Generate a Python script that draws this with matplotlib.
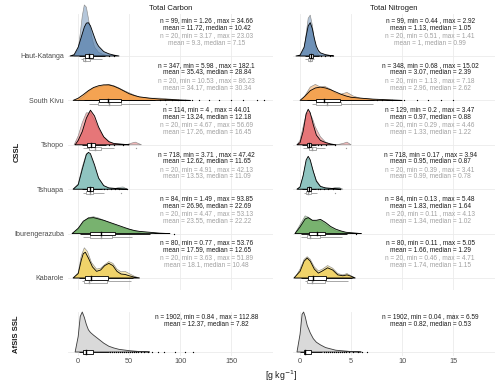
import matplotlib
matplotlib.use("Agg")
import matplotlib.pyplot as plt
from matplotlib.patches import Rectangle, Polygon

plt.rcParams['font.family'] = ['Liberation Sans', 'DejaVu Sans']

# ---------------- data ----------------
regions = ["Haut-Katanga", "South Kivu", "Tshopo", "Tshuapa", "Iburengerazuba", "Kabarole"]
colors = ["#4E79A7", "#F28E2B", "#E15759", "#76B7B2", "#59A14F", "#EDC948"]
tc_ticks = [0, 50, 100, 150]
tn_ticks = [0, 5, 10, 15]

# density curves: (x, height in row units)
tc_hk_full = [(-8, 0), (-4, 0.03), (0, 0.2), (2, 0.35), (4, 0.5), (6, 0.65), (8, 0.74), (10, 0.75), (12, 0.68), (14, 0.55), (16, 0.42), (18, 0.3), (20, 0.22), (25, 0.1), (30, 0.05), (35, 0.02), (40, 0)]
tc_hk_sub = [(-4, 0), (0, 0.15), (2, 0.5), (4, 0.9), (6, 1.15), (8, 1.1), (10, 0.85), (12, 0.58), (14, 0.36), (16, 0.2), (20, 0.08), (25, 0.03), (30, 0)]
tc_sk_full = [(-5, 0), (0, 0.05), (5, 0.13), (10, 0.22), (15, 0.29), (20, 0.33), (25, 0.35), (30, 0.35), (35, 0.32), (40, 0.27), (45, 0.21), (50, 0.15), (55, 0.11), (60, 0.08), (70, 0.05), (80, 0.03), (90, 0.02), (100, 0.01), (110, 0)]
tc_sk_sub = [(0, 0), (5, 0.08), (10, 0.2), (15, 0.28), (20, 0.3), (25, 0.33), (30, 0.36), (35, 0.33), (40, 0.28), (45, 0.22), (50, 0.17), (55, 0.12), (60, 0.07), (70, 0.05), (80, 0.05), (90, 0.03), (100, 0)]
tc_ts_full = [(-3, 0), (0, 0.1), (4, 0.3), (8, 0.6), (12, 0.78), (16, 0.65), (20, 0.4), (25, 0.18), (30, 0.07), (35, 0.03), (40, 0.02), (45, 0.01), (50, 0)]
tc_ts_sub = [(-4, 0), (0, 0.2), (4, 0.5), (8, 0.72), (12, 0.72), (16, 0.55), (20, 0.35), (25, 0.18), (30, 0.08), (35, 0.02), (40, 0.0), (47, 0.0), (51, 0.03), (56, 0.06), (62, 0)]
tc_tu_full = [(-5, 0), (0, 0.1), (4, 0.45), (8, 0.78), (10, 0.83), (12, 0.8), (16, 0.55), (20, 0.25), (25, 0.08), (30, 0.03), (35, 0.02), (40, 0.01), (48, 0)]
tc_tu_sub = [(-5, 0), (0, 0.12), (4, 0.5), (8, 0.8), (10, 0.8), (12, 0.75), (16, 0.5), (20, 0.25), (25, 0.08), (30, 0.02), (35, 0.01), (40, 0.04), (44, 0.05), (48, 0)]
tc_ib_full = [(-6, 0), (0, 0.12), (5, 0.28), (10, 0.35), (15, 0.36), (20, 0.33), (25, 0.3), (30, 0.26), (35, 0.22), (40, 0.18), (45, 0.14), (50, 0.1), (55, 0.07), (60, 0.05), (70, 0.03), (80, 0.01), (90, 0)]
tc_ib_sub = [(-6, 0), (0, 0.1), (5, 0.25), (10, 0.36), (15, 0.38), (20, 0.35), (25, 0.3), (30, 0.25), (35, 0.2), (40, 0.15), (45, 0.12), (50, 0.1), (55, 0.06), (60, 0.02), (65, 0)]
tc_ka_full = [(-5, 0), (0, 0.1), (3, 0.4), (5, 0.55), (7, 0.58), (10, 0.45), (14, 0.25), (18, 0.15), (22, 0.18), (26, 0.28), (30, 0.33), (34, 0.28), (38, 0.15), (42, 0.09), (46, 0.08), (50, 0.05), (55, 0.02), (60, 0)]
tc_ka_sub = [(-5, 0), (0, 0.12), (3, 0.5), (6, 0.68), (9, 0.6), (13, 0.35), (18, 0.2), (22, 0.22), (26, 0.3), (30, 0.37), (34, 0.33), (38, 0.2), (42, 0.14), (46, 0.15), (50, 0.1), (55, 0.04), (60, 0)]
tc_af = [(-3, 0), (0, 0.35), (2, 0.8), (4, 0.9), (6, 0.78), (8, 0.62), (10, 0.5), (12, 0.44), (15, 0.38), (20, 0.29), (25, 0.2), (30, 0.13), (35, 0.09), (40, 0.06), (50, 0.03), (60, 0.01), (70, 0)]

tn_hk_full = [(-0.4, 0), (0, 0.02), (0.4, 0.2), (0.6, 0.45), (0.8, 0.68), (1.0, 0.75), (1.2, 0.62), (1.4, 0.4), (1.6, 0.22), (1.8, 0.12), (2.0, 0.07), (2.5, 0.03), (3.0, 0.01), (3.3, 0)]
tn_hk_sub = [(0, 0), (0.4, 0.15), (0.6, 0.5), (0.8, 0.85), (1.0, 0.92), (1.2, 0.7), (1.4, 0.35), (1.6, 0.12), (1.8, 0.03), (2.0, 0)]
tn_sk_full = [(0, 0), (0.5, 0.1), (1.0, 0.22), (1.5, 0.28), (2.0, 0.3), (2.5, 0.28), (3.0, 0.24), (3.5, 0.19), (4.0, 0.14), (4.5, 0.1), (5.0, 0.07), (6.0, 0.05), (7.0, 0.03), (8.0, 0.02), (9.0, 0.01), (10, 0)]
tn_sk_sub = [(0.2, 0), (0.6, 0.15), (1.0, 0.3), (1.5, 0.36), (2.0, 0.3), (2.4, 0.32), (3.0, 0.25), (3.5, 0.15), (4.0, 0.14), (4.6, 0.18), (5.2, 0.1), (6.0, 0.04), (7.0, 0.03), (7.6, 0)]
tn_ts_full = [(-0.3, 0), (0, 0.05), (0.3, 0.3), (0.6, 0.7), (0.8, 0.8), (1.0, 0.72), (1.3, 0.45), (1.6, 0.22), (2.0, 0.1), (2.5, 0.05), (3.0, 0.02), (3.5, 0)]
tn_ts_sub = [(-0.3, 0), (0, 0.1), (0.3, 0.4), (0.6, 0.7), (0.9, 0.72), (1.2, 0.6), (1.5, 0.4), (2.0, 0.18), (2.5, 0.06), (3.0, 0.01), (3.6, 0.0), (4.2, 0.03), (4.6, 0.06), (5.0, 0)]
tn_tu_full = [(-0.3, 0), (0, 0.05), (0.3, 0.3), (0.6, 0.66), (0.8, 0.74), (1.0, 0.66), (1.3, 0.4), (1.6, 0.18), (2.0, 0.06), (2.5, 0.03), (3.0, 0.02), (3.5, 0.01), (4.0, 0)]
tn_tu_sub = [(-0.3, 0), (0, 0.05), (0.3, 0.3), (0.6, 0.6), (0.8, 0.68), (1.0, 0.62), (1.3, 0.4), (1.6, 0.2), (2.0, 0.07), (2.5, 0.02), (3.0, 0.01), (3.5, 0.04), (3.8, 0.04), (4.2, 0)]
tn_ib_full = [(-0.5, 0), (0, 0.15), (0.5, 0.33), (0.8, 0.36), (1.2, 0.3), (1.6, 0.3), (2.0, 0.32), (2.5, 0.25), (3.0, 0.16), (3.5, 0.1), (4.0, 0.06), (4.5, 0.03), (5.0, 0.02), (5.5, 0.01), (6.0, 0)]
tn_ib_sub = [(-0.5, 0), (0, 0.2), (0.5, 0.4), (0.8, 0.37), (1.2, 0.3), (1.6, 0.28), (2.0, 0.28), (2.5, 0.2), (3.0, 0.12), (3.5, 0.06), (4.0, 0.04), (4.5, 0.01), (5.0, 0)]
tn_ka_full = [(-0.6, 0), (0, 0.15), (0.4, 0.38), (0.7, 0.45), (1.0, 0.38), (1.4, 0.2), (1.8, 0.11), (2.2, 0.16), (2.7, 0.23), (3.2, 0.18), (3.7, 0.07), (4.2, 0.05), (4.6, 0.07), (5.0, 0.04), (5.4, 0)]
tn_ka_sub = [(-0.5, 0), (0, 0.2), (0.4, 0.42), (0.7, 0.48), (1.0, 0.42), (1.4, 0.25), (1.8, 0.16), (2.2, 0.2), (2.7, 0.28), (3.2, 0.22), (3.7, 0.1), (4.2, 0.07), (4.6, 0.1), (5.0, 0.05), (5.4, 0)]
tn_af = [(-0.3, 0), (0, 0.4), (0.2, 0.85), (0.35, 0.9), (0.5, 0.8), (0.7, 0.6), (1.0, 0.43), (1.3, 0.3), (1.6, 0.22), (2.0, 0.16), (2.5, 0.1), (3.0, 0.07), (3.5, 0.04), (4.0, 0.03), (5.0, 0.01), (6.0, 0)]

tc_full_dens = [tc_hk_full, tc_sk_full, tc_ts_full, tc_tu_full, tc_ib_full, tc_ka_full]
tc_sub_dens = [tc_hk_sub, tc_sk_sub, tc_ts_sub, tc_tu_sub, tc_ib_sub, tc_ka_sub]
tn_full_dens = [tn_hk_full, tn_sk_full, tn_ts_full, tn_tu_full, tn_ib_full, tn_ka_full]
tn_sub_dens = [tn_hk_sub, tn_sk_sub, tn_ts_sub, tn_tu_sub, tn_ib_sub, tn_ka_sub]

# summary statistics (full data)
tc_n = [99, 347, 114, 718, 84, 80]
tc_min = ["1.26", "5.98", "4", "3.71", "1.49", "0.77"]
tc_max = ["34.66", "182.1", "44.01", "47.42", "93.85", "53.76"]
tc_mean = ["11.72", "35.43", "13.24", "12.62", "26.96", "17.59"]
tc_median = ["10.42", "28.84", "12.18", "11.65", "22.69", "12.65"]
tc_s_min = ["3.17", "10.53", "4.67", "4.91", "4.47", "3.63"]
tc_s_max = ["23.03", "86.23", "56.69", "42.13", "53.13", "51.89"]
tc_s_mean = ["9.3", "34.17", "17.26", "13.53", "23.55", "18.1"]
tc_s_median = ["7.15", "30.34", "16.45", "11.09", "22.22", "10.48"]

tn_n = [99, 348, 129, 718, 84, 80]
tn_min = ["0.44", "0.68", "0.2", "0.17", "0.13", "0.11"]
tn_max = ["2.92", "15.02", "3.47", "3.94", "5.48", "5.05"]
tn_mean = ["1.13", "3.07", "0.97", "0.95", "1.83", "1.66"]
tn_median = ["1.05", "2.39", "0.88", "0.87", "1.64", "1.29"]
tn_s_min = ["0.51", "1.13", "0.29", "0.39", "0.11", "0.46"]
tn_s_max = ["1.41", "7.18", "4.46", "3.41", "4.13", "4.71"]
tn_s_mean = ["1", "2.96", "1.33", "0.99", "1.34", "1.74"]
tn_s_median = ["0.99", "2.62", "1.22", "0.78", "1.02", "1.15"]
sub_n = 20

af_tc_stats = (1902, "0.84", "112.88", "12.37", "7.82")
af_tn_stats = (1902, "0.04", "6.59", "0.82", "0.53")

# box plot values: (q1, median, q3, whisker low, whisker high)
tc_box = [(7, 10.42, 15, 1.26, 26), (20, 28.84, 42, 5.98, 75), (9, 12.18, 16, 4, 27),
          (9, 11.65, 14.5, 3.71, 23), (12, 22.69, 36, 1.49, 70), (7, 12.65, 29, 0.77, 53.76)]
tc_sbox = [(5, 7.15, 12, 3.17, 23.03), (19, 30.34, 42, 10.53, 70), (11, 16.45, 22, 4.67, 35),
           (8, 11.09, 15, 4.91, 25), (12, 22.22, 33, 4.47, 53.13), (6, 10.48, 28, 3.63, 51.89)]
tc_out = [[30, 34.66], [80, 85, 92, 98, 105, 112, 118, 128, 138, 150, 162, 175, 182.1], [30, 35, 44.01],
          [25, 28, 32, 36, 40, 47.42], [93.85], []]
tc_sout = [[], [86.23], [56.69], [42.13], [], []]
tn_box = [(0.85, 1.05, 1.3, 0.44, 1.9), (1.6, 2.39, 3.9, 0.68, 7.2), (0.7, 0.88, 1.1, 0.2, 1.6),
          (0.7, 0.87, 1.05, 0.17, 1.6), (0.9, 1.64, 2.4, 0.13, 4.6), (0.8, 1.29, 2.5, 0.11, 5.05)]
tn_sbox = [(0.8, 0.99, 1.2, 0.51, 1.41), (1.6, 2.62, 4.0, 1.13, 7.18), (0.9, 1.22, 1.6, 0.29, 2.4),
           (0.6, 0.78, 1.1, 0.39, 1.7), (0.7, 1.02, 2.0, 0.11, 4.13), (0.7, 1.15, 2.4, 0.46, 4.71)]
tn_out = [[2.1, 2.4, 2.92], [7.5, 8, 9, 10.2, 11.5, 12.5, 13.8, 15.02], [1.8, 2.1, 2.5, 3.47],
          [1.8, 2.0, 2.3, 2.7, 3.2, 3.94], [5.48], []]
tn_sout = [[], [], [4.46], [3.41], [], []]
af_tc_box = (4.5, 7.82, 15, 0.84, 30)
af_tc_out = [31, 33, 35, 37, 39, 41, 43, 45, 47, 49, 51, 53, 55, 57, 59, 62, 65, 68, 72, 78, 84, 95, 105, 112.88]
af_tn_box = (0.35, 0.53, 1.1, 0.04, 2.2)
af_tn_out = [2.3, 2.5, 2.7, 2.9, 3.1, 3.3, 3.5, 3.7, 3.9, 4.1, 4.3, 4.5, 4.8, 5.2, 5.7, 6.1, 6.59]

# ---------------- layout ----------------
W, H = 500, 386
fig = plt.figure(figsize=(5, 3.86), dpi=100)
fig.patch.set_facecolor("white")

def px_axes(l, t, r, b):
    return fig.add_axes([l / W, 1 - b / H, (r - l) / W, (b - t) / H])

UNIT = 44.4
GRID = "#EBEBEB"
TXT = "#4D4D4D"

ax_tc = px_axes(68, 14, 273, 290)
ax_tn = px_axes(293, 14, 495, 290)
ax_atc = px_axes(68, 312, 273, 356)
ax_atn = px_axes(293, 312, 495, 356)

for ax in (ax_tc, ax_tn):
    ax.set_ylim(6 - (290 - 56) / UNIT, 6 + (56 - 14) / UNIT)
for ax in (ax_atc, ax_atn):
    ax.set_ylim(1 - 4 / UNIT, 1 + 40 / UNIT)
for ax in (ax_tc, ax_atc):
    ax.set_xlim(-10, 191)
    ax.set_xticks(tc_ticks)
for ax in (ax_tn, ax_atn):
    ax.set_xlim(-0.69, 19.1)
    ax.set_xticks(tn_ticks)

for ax in (ax_tc, ax_tn, ax_atc, ax_atn):
    for s in ax.spines.values():
        s.set_visible(False)
    ax.set_facecolor("white")
    ax.grid(axis="x", color=GRID, lw=0.6, zorder=0)
    ax.set_axisbelow(True)
    ax.tick_params(length=0, labelsize=5.3, colors=TXT, pad=1.5)

baselines = [6, 5, 4, 3, 2, 1]
for ax in (ax_tc, ax_tn):
    for b in baselines:
        ax.axhline(b, color=GRID, lw=0.6, zorder=0)
    ax.set_yticks(baselines)
    ax.tick_params(labelbottom=False)
ax_tc.set_yticklabels(regions)
ax_tc.tick_params(axis="y", pad=3, labelsize=5.1)
ax_tn.set_yticklabels([])
for ax in (ax_atc, ax_atn):
    ax.axhline(1, color=GRID, lw=0.6, zorder=0)
    ax.set_yticks([])
ax_atn.set_yticklabels([])


def draw_density(ax, pts, base, fc, alpha, ec, lw, z):
    xs = [p[0] for p in pts]
    hs = [base + p[1] for p in pts]
    poly = [(xs[0], base)] + list(zip(xs, hs)) + [(xs[-1], base)]
    ax.add_patch(Polygon(poly, closed=True, facecolor=fc, alpha=alpha, edgecolor="none", zorder=z,
                         clip_on=False))
    ax.add_patch(Polygon(poly, closed=True, facecolor="none", edgecolor=ec, lw=lw, zorder=z + 0.1,
                         joinstyle="round", clip_on=False))


def draw_box(ax, y, stats, outl, ec, h, z):
    q1, med, q3, lo, hi = stats
    ax.plot([lo, q1], [y, y], color=ec, lw=0.6, zorder=z, solid_capstyle="butt")
    ax.plot([q3, hi], [y, y], color=ec, lw=0.6, zorder=z, solid_capstyle="butt")
    ax.add_patch(Rectangle((q1, y - h / 2), q3 - q1, h, facecolor="white", edgecolor=ec, lw=0.6, zorder=z))
    ax.plot([med, med], [y - h / 2, y + h / 2], color=ec, lw=1.0, zorder=z + 0.1)
    if outl:
        ax.scatter(outl, [y] * len(outl), s=0.9, color=ec, linewidths=0, zorder=z)


def stat_text(ax, x, base, n, mn, mx, mean, med, color, first):
    off = (0.79, 0.64) if first else (0.45, 0.30)
    ax.text(x, base + off[0], f"n = {n}, min = {mn} , max = {mx}", ha="center", va="center",
            fontsize=4.7, color=color, zorder=10, clip_on=False)
    ax.text(x, base + off[1], f"mean = {mean}, median = {med}", ha="center", va="center",
            fontsize=4.7, color=color, zorder=10, clip_on=False)


BLACK = "#1A1A1A"
GREYT = "#A0A0A0"
GREYE = "#9A9A9A"

for i, b in enumerate(baselines):
    c = colors[i]
    draw_density(ax_tc, tc_sub_dens[i], b, c, 0.42, "#8C8C8C", 0.45, 2)
    draw_density(ax_tc, tc_full_dens[i], b, c, 0.68, "black", 0.6, 3)
    draw_density(ax_tn, tn_sub_dens[i], b, c, 0.42, "#8C8C8C", 0.45, 2)
    draw_density(ax_tn, tn_full_dens[i], b, c, 0.68, "black", 0.6, 3)
    draw_box(ax_tc, b - 0.075, tc_sbox[i], tc_sout[i], GREYE, 0.07, 4)
    draw_box(ax_tc, b, tc_box[i], tc_out[i], "black", 0.08, 5)
    draw_box(ax_tn, b - 0.075, tn_sbox[i], tn_sout[i], GREYE, 0.07, 4)
    draw_box(ax_tn, b, tn_box[i], tn_out[i], "black", 0.08, 5)
    stat_text(ax_tc, 126, b, tc_n[i], tc_min[i], tc_max[i], tc_mean[i], tc_median[i], BLACK, True)
    stat_text(ax_tc, 126, b, sub_n, tc_s_min[i], tc_s_max[i], tc_s_mean[i], tc_s_median[i], GREYT, False)
    stat_text(ax_tn, 12.75, b, tn_n[i], tn_min[i], tn_max[i], tn_mean[i], tn_median[i], BLACK, True)
    stat_text(ax_tn, 12.75, b, sub_n, tn_s_min[i], tn_s_max[i], tn_s_mean[i], tn_s_median[i], GREYT, False)

draw_density(ax_atc, tc_af, 1, "#D9D9D9", 1.0, "#3A3A3A", 0.6, 3)
draw_density(ax_atn, tn_af, 1, "#D9D9D9", 1.0, "#3A3A3A", 0.6, 3)
draw_box(ax_atc, 1, af_tc_box, af_tc_out, "black", 0.09, 5)
draw_box(ax_atn, 1, af_tn_box, af_tn_out, "black", 0.09, 5)
stat_text(ax_atc, 126, 1, *af_tc_stats, BLACK, True)
stat_text(ax_atn, 12.75, 1, *af_tn_stats, BLACK, True)

# strips and labels
fig.text(170.5 / W, 1 - 8 / H, "Total Carbon", ha="center", va="center", fontsize=5.5, color="#1A1A1A")
fig.text(394 / W, 1 - 8 / H, "Total Nitrogen", ha="center", va="center", fontsize=5.5, color="#1A1A1A")
fig.text(17 / W, 1 - 152 / H, "CSSL", ha="center", va="center", rotation=90, fontsize=5.5,
         fontweight="bold", color="#1A1A1A")
fig.text(17 / W, 1 - 334 / H, "AfSIS SSL", ha="center", va="center", rotation=90, fontsize=5.5,
         fontweight="bold", color="#1A1A1A")
fig.text(281.5 / W, 1 - 376 / H, r"[g kg$^{-1}$]", ha="center", va="center", fontsize=6.3, color="#1A1A1A")

fig.savefig("out.png", dpi=100, facecolor="white")
